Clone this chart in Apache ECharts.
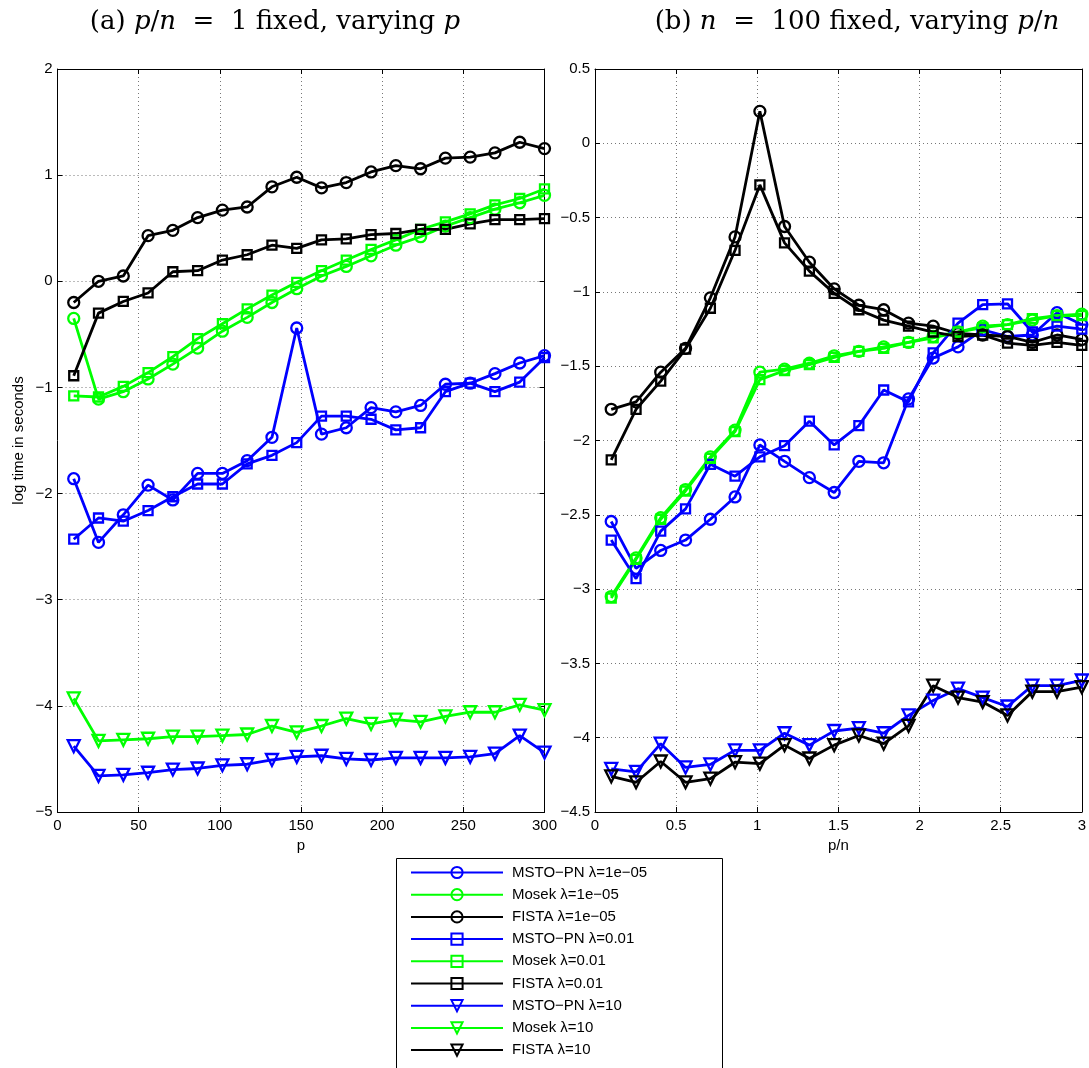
<!DOCTYPE html>
<html>
<head>
<meta charset="utf-8">
<script src="https://cdn.jsdelivr.net/npm/echarts@6/dist/echarts.min.js"></script>
<style>
  html, body { margin: 0; padding: 0; background: #fff; }
  #main { width: 1089px; height: 1068px; }
</style>
</head>
<body>
<div id="main"></div>
<script>
// x values
const pVals = [10, 25.26, 40.53, 55.79, 71.05, 86.32, 101.58, 116.84, 132.11, 147.37, 162.63, 177.89, 193.16, 208.42, 223.68, 238.95, 254.21, 269.47, 284.74, 300];
const ratioVals = [0.1, 0.253, 0.405, 0.558, 0.711, 0.863, 1.016, 1.168, 1.321, 1.474, 1.626, 1.779, 1.932, 2.084, 2.237, 2.389, 2.542, 2.695, 2.847, 3.0];

// (a) p/n = 1 fixed
const msto1e5_a = [-1.86, -2.46, -2.20, -1.92, -2.06, -1.81, -1.81, -1.69, -1.47, -0.44, -1.44, -1.38, -1.19, -1.23, -1.17, -0.97, -0.96, -0.87, -0.77, -0.70];
const mosek1e5_a = [-0.35, -1.11, -1.04, -0.92, -0.78, -0.63, -0.47, -0.34, -0.20, -0.07, 0.05, 0.14, 0.24, 0.34, 0.42, 0.52, 0.60, 0.68, 0.74, 0.81];
const fista1e5_a = [-0.20, 0.00, 0.05, 0.43, 0.48, 0.60, 0.67, 0.70, 0.89, 0.98, 0.88, 0.93, 1.03, 1.09, 1.06, 1.16, 1.17, 1.21, 1.31, 1.25];
const msto001_a = [-2.43, -2.23, -2.26, -2.16, -2.03, -1.91, -1.91, -1.72, -1.64, -1.52, -1.27, -1.27, -1.30, -1.40, -1.38, -1.04, -0.96, -1.04, -0.95, -0.72];
const mosek001_a = [-1.08, -1.09, -0.99, -0.86, -0.71, -0.54, -0.40, -0.26, -0.13, -0.01, 0.10, 0.20, 0.30, 0.39, 0.49, 0.56, 0.635, 0.72, 0.78, 0.87];
const fista001_a = [-0.89, -0.30, -0.19, -0.11, 0.09, 0.10, 0.20, 0.25, 0.34, 0.31, 0.39, 0.40, 0.44, 0.45, 0.49, 0.49, 0.54, 0.58, 0.58, 0.59];
const msto10_a = [-4.38, -4.66, -4.65, -4.63, -4.60, -4.59, -4.56, -4.55, -4.51, -4.48, -4.47, -4.50, -4.51, -4.49, -4.49, -4.49, -4.48, -4.45, -4.28, -4.44];
const mosek10_a = [-3.93, -4.33, -4.32, -4.31, -4.29, -4.29, -4.28, -4.27, -4.19, -4.25, -4.19, -4.12, -4.17, -4.13, -4.15, -4.10, -4.06, -4.06, -3.99, -4.04];

// (b) n = 100 fixed
const msto1e5_b = [-2.545, -2.86, -2.74, -2.67, -2.53, -2.38, -2.03, -2.14, -2.25, -2.35, -2.14, -2.15, -1.72, -1.445, -1.37, -1.255, -1.30, -1.29, -1.14, -1.22];
const mosek1e5_b = [-3.05, -2.79, -2.52, -2.33, -2.11, -1.93, -1.54, -1.52, -1.48, -1.43, -1.40, -1.37, -1.34, -1.30, -1.27, -1.23, -1.22, -1.19, -1.16, -1.15];
const fista1e5_b = [-1.79, -1.74, -1.54, -1.38, -1.04, -0.63, 0.215, -0.56, -0.80, -0.98, -1.09, -1.12, -1.21, -1.23, -1.28, -1.29, -1.30, -1.34, -1.29, -1.32];
const msto001_b = [-2.67, -2.93, -2.61, -2.46, -2.16, -2.24, -2.11, -2.035, -1.87, -2.03, -1.90, -1.66, -1.74, -1.41, -1.21, -1.085, -1.08, -1.27, -1.23, -1.25];
const mosek001_b = [-3.06, -2.80, -2.53, -2.34, -2.12, -1.94, -1.59, -1.53, -1.49, -1.44, -1.40, -1.38, -1.34, -1.31, -1.27, -1.24, -1.22, -1.18, -1.16, -1.16];
const fista001_b = [-2.13, -1.79, -1.60, -1.385, -1.11, -0.72, -0.28, -0.67, -0.86, -1.01, -1.12, -1.19, -1.23, -1.27, -1.30, -1.29, -1.345, -1.36, -1.34, -1.36];
const msto10_b = [-4.21, -4.23, -4.04, -4.20, -4.18, -4.085, -4.085, -3.97, -4.05, -3.955, -3.935, -3.97, -3.85, -3.75, -3.67, -3.73, -3.79, -3.65, -3.65, -3.615];
const fista10_b = [-4.26, -4.30, -4.16, -4.30, -4.275, -4.165, -4.175, -4.05, -4.14, -4.05, -3.985, -4.04, -3.92, -3.65, -3.73, -3.76, -3.85, -3.69, -3.69, -3.66];

const legendNames = [
  'MSTO−PN λ=1e−05', 'Mosek λ=1e−05', 'FISTA λ=1e−05',
  'MSTO−PN λ=0.01', 'Mosek λ=0.01', 'FISTA λ=0.01',
  'MSTO−PN λ=10', 'Mosek λ=10', 'FISTA λ=10'
];

const BLUE = '#0000ff', GREEN = '#00ff00', BLACK = '#000000';
const FONT = 'Liberation Sans, Arial, sans-serif';
const SERIF = 'DejaVu Serif, Liberation Serif, serif';

const chart = echarts.init(document.getElementById('main'));

// 一条曲线
function mk(name, xs, ys, color, shape, idx) {
  let symbol = 'circle', size = 11, rotate = 0;
  if (shape === 'sq') { symbol = 'rect'; size = 9; }
  if (shape === 'tri') { symbol = 'triangle'; size = 12; rotate = 180; }
  return {
    name: name,
    type: 'line',
    xAxisIndex: idx,
    yAxisIndex: idx,
    data: xs.map((x, i) => [x, ys[i]]),
    symbol: symbol,
    symbolSize: size,
    symbolRotate: rotate,
    showAllSymbol: true,
    lineStyle: { color: color, width: 2.8 },
    itemStyle: { color: 'rgba(255,255,255,0)', borderColor: color, borderWidth: 2.3 },
    emphasis: { disabled: true },
    animation: false
  };
}

const minus = v => String(v).replace('-', '−');

function xAx(idx, min, max, step, pos, name) {
  return {
    type: 'value', gridIndex: idx, min: min, max: max, interval: step, position: pos,
    name: name || '', nameLocation: 'middle', nameGap: 24,
    nameTextStyle: { color: '#000', fontSize: 15, fontFamily: FONT },
    axisLine: { show: true, onZero: false, lineStyle: { color: '#000', width: 1 } },
    axisTick: { show: true, inside: true, length: 5, lineStyle: { color: '#000' } },
    axisLabel: { show: pos === 'bottom', color: '#000', fontSize: 15, fontFamily: FONT, margin: 6, formatter: minus },
    splitLine: { show: pos === 'bottom', lineStyle: { color: '#777', type: [1, 3], width: 1 } }
  };
}
function yAx(idx, min, max, step, pos, name) {
  return {
    type: 'value', gridIndex: idx, min: min, max: max, interval: step, position: pos,
    name: name || '', nameLocation: 'middle', nameGap: 31, nameRotate: 90,
    nameTextStyle: { color: '#000', fontSize: 15, fontFamily: FONT },
    axisLine: { show: true, onZero: false, lineStyle: { color: '#000', width: 1 } },
    axisTick: { show: true, inside: true, length: 5, lineStyle: { color: '#000' } },
    axisLabel: { show: pos === 'left', color: '#000', fontSize: 15, fontFamily: FONT, margin: 5, formatter: minus },
    splitLine: { show: pos === 'left', lineStyle: { color: '#777', type: [1, 3], width: 1 } }
  };
}

const titleRich = {
  r: { fontFamily: SERIF, fontSize: 26, fontWeight: 'normal', fill: '#000' },
  i: { fontFamily: SERIF, fontSize: 26, fontWeight: 'normal', fontStyle: 'italic', fill: '#000' }
};

const option = {
  backgroundColor: '#fff',
  animation: false,
  grid: [
    { left: 57.5, top: 69, width: 487, height: 743, show: false },
    { left: 595, top: 69, width: 487, height: 743, show: false }
  ],
  xAxis: [
    xAx(0, 0, 300, 50, 'bottom', 'p'),
    xAx(1, 0, 3, 0.5, 'bottom', 'p/n'),
    xAx(0, 0, 300, 50, 'top'),
    xAx(1, 0, 3, 0.5, 'top')
  ],
  yAxis: [
    yAx(0, -5, 2, 1, 'left', 'log time in seconds'),
    yAx(1, -4.5, 0.5, 0.5, 'left'),
    yAx(0, -5, 2, 1, 'right'),
    yAx(1, -4.5, 0.5, 0.5, 'right')
  ],
  legend: {
    data: legendNames,
    orient: 'vertical',
    left: 410, top: 865,
    padding: 0,
    itemWidth: 92, itemHeight: 14, itemGap: 7.2,
    selectedMode: false,
    textStyle: { color: '#000', fontSize: 15, fontFamily: FONT, padding: [0, 0, 0, 4] }
  },
  graphic: [
    { type: 'rect', left: 394, top: 856, shape: { width: 326, height: 230 },
      style: { fill: 'none', stroke: '#000', lineWidth: 1 }, z: -1 },
    { type: 'text', x: 275, y: 22,
      style: { text: '{r|(a) }{i|p}{r|/}{i|n}{r|  =  1 fixed, varying }{i|p}', align: 'center', verticalAlign: 'middle', rich: titleRich } },
    { type: 'text', x: 857, y: 22,
      style: { text: '{r|(b) }{i|n}{r|  =  100 fixed, varying }{i|p}{r|/}{i|n}', align: 'center', verticalAlign: 'middle', rich: titleRich } }
  ],
  series: [
    mk(legendNames[0], pVals, msto1e5_a, BLUE, 'o', 0),
    mk(legendNames[1], pVals, mosek1e5_a, GREEN, 'o', 0),
    mk(legendNames[2], pVals, fista1e5_a, BLACK, 'o', 0),
    mk(legendNames[3], pVals, msto001_a, BLUE, 'sq', 0),
    mk(legendNames[4], pVals, mosek001_a, GREEN, 'sq', 0),
    mk(legendNames[5], pVals, fista001_a, BLACK, 'sq', 0),
    mk(legendNames[6], pVals, msto10_a, BLUE, 'tri', 0),
    mk(legendNames[7], pVals, mosek10_a, GREEN, 'tri', 0),

    mk(legendNames[0], ratioVals, msto1e5_b, BLUE, 'o', 1),
    mk(legendNames[1], ratioVals, mosek1e5_b, GREEN, 'o', 1),
    mk(legendNames[2], ratioVals, fista1e5_b, BLACK, 'o', 1),
    mk(legendNames[3], ratioVals, msto001_b, BLUE, 'sq', 1),
    mk(legendNames[4], ratioVals, mosek001_b, GREEN, 'sq', 1),
    mk(legendNames[5], ratioVals, fista001_b, BLACK, 'sq', 1),
    mk(legendNames[6], ratioVals, msto10_b, BLUE, 'tri', 1),
    mk(legendNames[8], ratioVals, fista10_b, BLACK, 'tri', 1)
  ]
};

chart.setOption(option);
</script>
</body>
</html>
